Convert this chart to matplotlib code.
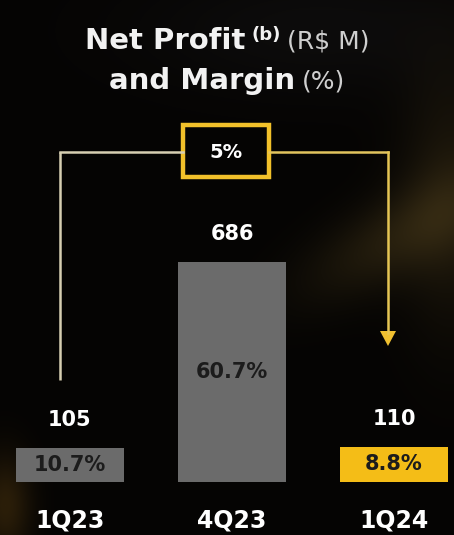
import matplotlib
matplotlib.use("Agg")
import matplotlib.pyplot as plt
import numpy as np
from matplotlib.patches import Rectangle, Polygon

# data
quarters = ["1Q23", "4Q23", "1Q24"]
net_profit = [105, 686, 110]
margins = ["10.7%", "60.7%", "8.8%"]
growth = "5%"

W, H = 454, 535
BG = "#050403"
GRAY = "#6b6b6b"
YELLOW = "#f4bd17"
bar_colors = [GRAY, GRAY, YELLOW]

plt.rcParams["font.family"] = ["DejaVu Sans"]

fig = plt.figure(figsize=(W / 100, H / 100), dpi=100)
fig.patch.set_facecolor(BG)

# background haze
bg = fig.add_axes([0, 0, 1, 1])
bg.set_xlim(0, W)
bg.set_ylim(H, 0)
bg.axis("off")
yy, xx = np.mgrid[0:H, 0:W]
img = np.zeros((H, W, 3))
img[:] = np.array([5, 4, 3]) / 255


def blob(cx, cy, sx, sy, col, ang=0.0):
    c, s = np.cos(ang), np.sin(ang)
    dx, dy = xx - cx, yy - cy
    u = c * dx + s * dy
    v = -s * dx + c * dy
    g = np.exp(-(u ** 2 / (2 * sx ** 2) + v ** 2 / (2 * sy ** 2)))
    return g[..., None] * np.array(col)[None, None, :] / 255


img += blob(400, 235, 75, 28, (30, 24, 10), ang=-0.5)
img += blob(450, 200, 35, 90, (24, 19, 8))
img += blob(5, 505, 18, 35, (38, 26, 6))
img += blob(320, 30, 130, 45, (8, 8, 9))
img = np.clip(img, 0, 1)
bg.imshow(img, extent=(0, W, H, 0), aspect="auto", zorder=0)

# bars
ax = fig.add_axes([0, 53 / H, 1, 482 / H])
ax.set_facecolor("none")
x = np.arange(len(quarters))
px_per_unit = 162
ax.set_xlim(-70 / px_per_unit, (W - 70) / px_per_unit)
ax.set_ylim(0, 686 * 482 / 220)
ax.axis("off")
ax.bar(x, net_profit, width=0.67, color=bar_colors, zorder=2)

for i, (v, m) in enumerate(zip(net_profit, margins)):
    ax.annotate(str(v), (x[i], v), xytext=(0, 13), textcoords="offset points",
                ha="center", va="bottom", color="white", fontsize=15,
                fontweight="bold")
    ax.text(x[i], v / 2, m, ha="center", va="center", color="#1c1c1c",
            fontsize=15, fontweight="bold", zorder=3)
    ax.annotate(quarters[i], (x[i], 0), xytext=(0, -28),
                textcoords="offset points", ha="center", va="center",
                color="white", fontsize=17, fontweight="bold")

# growth connector (pixel coords on the overlay)
ov = fig.add_axes([0, 0, 1, 1])
ov.set_facecolor("none")
ov.set_xlim(0, W)
ov.set_ylim(H, 0)
ov.axis("off")
ov.plot([60, 60], [380, 152], color="#d7cfb2", lw=1.8, solid_capstyle="butt")
ov.plot([60, 183], [152, 152], color="#d7cfb2", lw=1.8)
ov.plot([269, 388], [152, 152], color="#e2c45e", lw=1.8)
ov.plot([388, 388], [152, 333], color="#e6c654", lw=1.8)
ov.add_patch(Polygon([[380, 331], [396, 331], [388, 346]], closed=True,
                     color="#f0c030", lw=0))
ov.add_patch(Rectangle((183, 125), 86, 52, facecolor="#050403",
                       edgecolor="#f2c12a", lw=3.2))
ov.text(226, 152, growth, ha="center", va="center", color="white",
        fontsize=14, fontweight="bold")

# title made of bold and regular parts
fig.canvas.draw()
renderer = fig.canvas.get_renderer()


def title_line(parts, y):
    widths = []
    artists = []
    for txt, size, weight, col, dy in parts:
        t = ov.text(0, y + dy, txt, fontsize=size, fontweight=weight,
                    color=col, ha="left", va="baseline")
        artists.append(t)
        widths.append(t.get_window_extent(renderer).width)
    gap = 6
    total = sum(widths) + gap * (len(widths) - 1)
    x0 = W / 2 - total / 2
    for t, w in zip(artists, widths):
        t.set_x(x0)
        x0 += w + gap


title_line([("Net Profit", 21, "bold", "#f2f2f2", 0),
            ("(b)", 13, "bold", "#f2f2f2", -9),
            ("(R$ M)", 18, "normal", "#cfcfcf", 0)], 49)
title_line([("and Margin", 21, "bold", "#f2f2f2", 0),
            ("(%)", 18, "normal", "#cfcfcf", 0)], 89)

fig.savefig("out.png", dpi=100, facecolor=fig.get_facecolor())
